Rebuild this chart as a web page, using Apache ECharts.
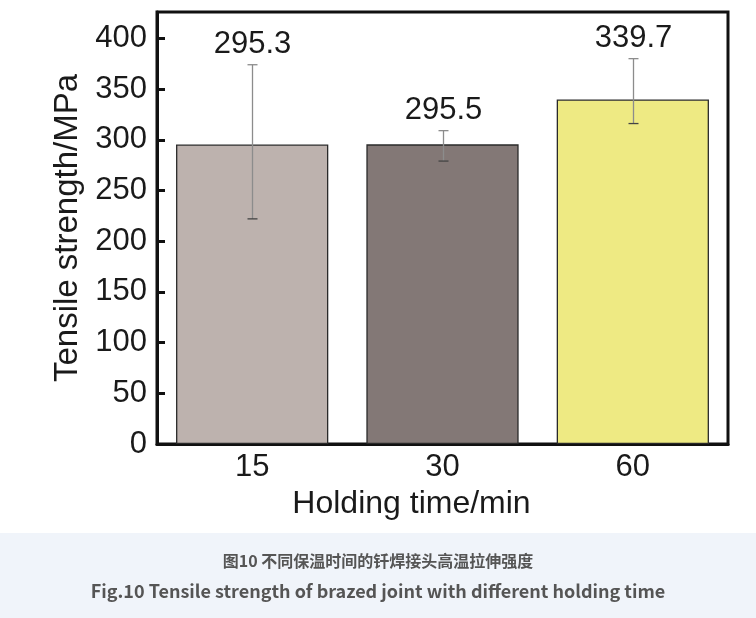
<!DOCTYPE html>
<html>
<head>
<meta charset="utf-8">
<script src="https://cdn.jsdelivr.net/npm/echarts@6/dist/echarts.min.js"></script>
<style>
html,body{margin:0;padding:0;background:#fff;}
#chart{width:756px;height:618px;}
</style>
</head>
<body>
<div id="chart"></div>
<script>
var categories = ['15', '30', '60'];
var meanValues = [295.3, 295.5, 339.7];
var errorUpper = [374, 309, 380];
var errorLower = [222, 279, 316];
var barColors = ['#bdb2ae', '#837876', '#eeea83'];
var yTicks = [0, 50, 100, 150, 200, 250, 300, 350, 400];
var captionCN = '图10 不同保温时间的钎焊接头高温拉伸强度';
var captionEN = 'Fig.10 Tensile strength of brazed joint with different holding time';

var chart = echarts.init(document.getElementById('chart'), null, {renderer: 'canvas'});
var FONT = 'Liberation Sans, Arial, sans-serif';

var errData = categories.map(function (c, i) {
  return [i, errorLower[i], errorUpper[i], meanValues[i]];
});

var option = {
  animation: false,
  backgroundColor: '#ffffff',
  grid: {
    left: 157, right: 28, top: 12, bottom: 174,
    show: true, borderColor: '#111', borderWidth: 3, backgroundColor: 'transparent'
  },
  xAxis: {
    type: 'category',
    data: categories,
    axisLine: {show: true, lineStyle: {color: '#111', width: 3}},
    axisTick: {show: false},
    axisLabel: {fontFamily: FONT, fontSize: 31, color: '#1a1a1a', margin: 8},
    name: 'Holding time/min',
    nameLocation: 'middle',
    nameGap: 34,
    nameTextStyle: {fontFamily: FONT, fontSize: 32, color: '#1a1a1a', padding: [0, 62, 0, 0]}
  },
  yAxis: {
    type: 'value',
    min: yTicks[0],
    max: 426,
    interval: yTicks[1] - yTicks[0],
    splitLine: {show: false},
    axisLine: {show: true, lineStyle: {color: '#111', width: 3}},
    axisTick: {show: true, inside: true, length: 8, lineStyle: {color: '#111', width: 3}},
    axisLabel: {fontFamily: FONT, fontSize: 31, color: '#1a1a1a', margin: 10, showMaxLabel: false,
      formatter: function (v) { return yTicks.indexOf(v) >= 0 ? String(v) : ''; }},
    name: 'Tensile strength/MPa',
    nameLocation: 'middle',
    nameGap: 67,
    nameTextStyle: {fontFamily: FONT, fontSize: 33, color: '#1a1a1a'}
  },
  series: [
    {
      type: 'bar',
      barWidth: '80%',
      data: meanValues.map(function (v, i) {
        return {value: v, itemStyle: {color: barColors[i]}};
      }),
      itemStyle: {borderColor: '#2a2a2a', borderWidth: 1.3},
      z: 2
    },
    {
      type: 'custom',
      data: errData,
      z: 5,
      renderItem: function (params, api) {
        var x = api.value(0);
        var lo = api.coord([x, api.value(1)]);
        var hi = api.coord([x, api.value(2)]);
        var cx = Math.round(lo[0]) + 0.5;
        var half = 5;
        var style = {stroke: '#8c8c8c', lineWidth: 1.3};
        return {
          type: 'group',
          children: [
            {type: 'line', shape: {x1: cx, y1: lo[1], x2: cx, y2: hi[1]}, style: style},
            {type: 'line', shape: {x1: cx - half, y1: lo[1], x2: cx + half, y2: lo[1]}, style: {stroke: '#444', lineWidth: 1.3}},
            {type: 'line', shape: {x1: cx - half, y1: hi[1], x2: cx + half, y2: hi[1]}, style: style},
            {type: 'text', style: {
              text: api.value(3).toFixed(1),
              x: cx, y: hi[1] - 5,
              textAlign: 'center', textVerticalAlign: 'bottom',
              fontFamily: FONT, fontSize: 31, fill: '#1a1a1a'
            }}
          ]
        };
      }
    }
  ],
  graphic: [
    {type: 'rect', left: 0, top: 533, shape: {width: 756, height: 85}, style: {fill: '#f0f4fa'}, z: 0},
    {type: 'text', left: 'center', top: 553, style: {
      text: captionCN, fontFamily: 'Noto Sans CJK SC', fontWeight: 'bold', fontSize: 16, fill: '#555'
    }},
    {type: 'text', left: 'center', top: 582, style: {
      text: captionEN, fontFamily: 'Noto Sans CJK SC', fontWeight: 'bold', fontSize: 18, fill: '#555'
    }}
  ]
};
chart.setOption(option);
</script>
</body>
</html>
